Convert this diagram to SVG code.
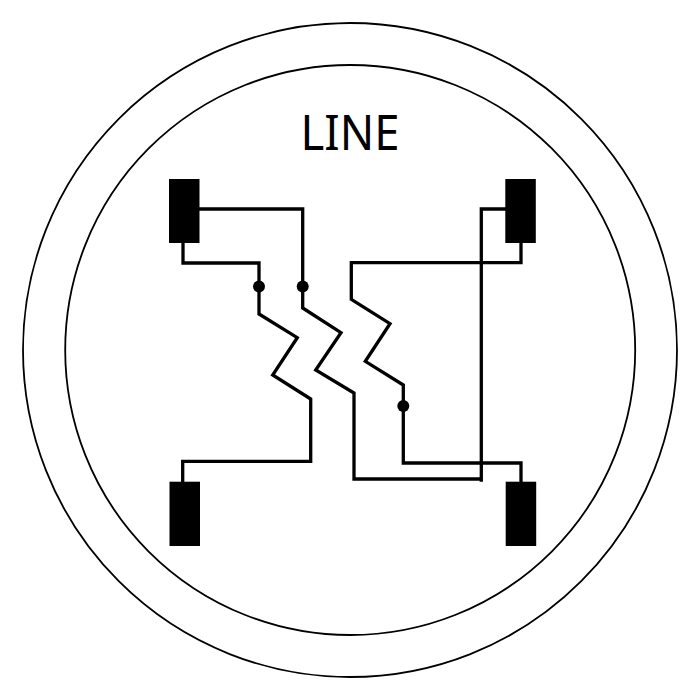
<svg xmlns="http://www.w3.org/2000/svg" width="700" height="700" viewBox="0 0 700 700">
<style>
.ring{fill:none;stroke:#000;stroke-width:1.8}
.wire{fill:none;stroke:#000;stroke-width:3.3;stroke-linejoin:miter}
.term{fill:#000}
.lbl{font-family:"Noto Sans","Open Sans",sans-serif;font-size:49px;fill:#000;text-anchor:start}
</style>
<rect width="700" height="700" fill="#fff"/>
<g id="rings">
<circle class="ring" cx="350" cy="350" r="327"/>
<circle class="ring" cx="350.2" cy="350" r="285"/>
</g>
<text id="label" class="lbl" x="300.5" y="150" textLength="99" lengthAdjust="spacingAndGlyphs">LINE</text>
<g id="connectors">
<path class="wire" d="M199 209H302.7V308L341 332.7L315.7 370L354 393V479H481.3"/>
<path class="wire" d="M481.3 481.7V209H506"/>
<path class="wire" d="M183 242V263H259V314L297.3 337.7L272.7 375L310.7 399V461.3H182.7V482"/>
<path class="wire" d="M521 242V262.7H351.3V299.3L390 323.7L365.3 361.3L403.3 385V463H521V482"/>
</g>
<g id="term-tl"><rect class="term" x="169" y="179" width="30.5" height="64"/></g>
<g id="term-tr"><rect class="term" x="505.3" y="179" width="30.5" height="64"/></g>
<g id="term-bl"><rect class="term" x="169.5" y="481.7" width="30.5" height="64.3"/></g>
<g id="term-br"><rect class="term" x="505.7" y="481.7" width="30.5" height="64.3"/></g>
<g id="dot-1"><circle cx="259" cy="286.5" r="6"/></g>
<g id="dot-2"><circle cx="302.7" cy="286.5" r="6"/></g>
<g id="dot-3"><circle cx="403.3" cy="406" r="6"/></g>
</svg>
